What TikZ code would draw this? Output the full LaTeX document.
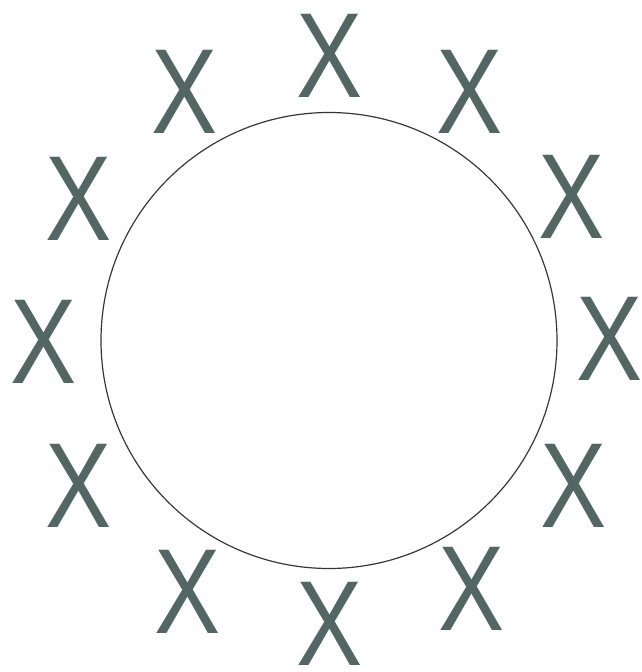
\documentclass[tikz,border=0pt]{standalone}
\usepackage{fontspec}
\setmainfont{Liberation Sans}
\definecolor{xcol}{RGB}{82,102,99}
\definecolor{ringcol}{RGB}{55,55,55}
\begin{document}
\begin{tikzpicture}[x=1pt,y=-1pt,
  mark x/.style={inner sep=0pt, text=xcol, font=\fontsize{121}{121}\selectfont, xscale=0.82},
  ring/.style={draw=ringcol, line width=1.2pt}]
\useasboundingbox (0,0) rectangle (642,672);
\node[ring, circle, minimum size=456pt, inner sep=0pt] (c) at (329,340.5) {};
\node[mark x] (x1) at (330,56) {X};
\node[mark x] (x2) at (470,92) {X};
\node[mark x] (x3) at (572,197) {X};
\node[mark x] (x4) at (610,339) {X};
\node[mark x] (x5) at (574,486) {X};
\node[mark x] (x6) at (472,589) {X};
\node[mark x] (x7) at (330,624) {X};
\node[mark x] (x8) at (188,592) {X};
\node[mark x] (x9) at (79,486) {X};
\node[mark x] (x10) at (44,342) {X};
\node[mark x] (x11) at (79,199) {X};
\node[mark x] (x12) at (185,92) {X};
\end{tikzpicture}
\end{document}
